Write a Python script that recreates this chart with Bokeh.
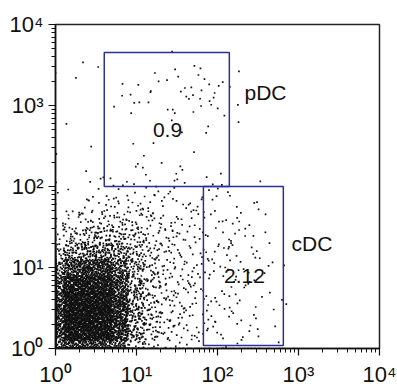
import math
from bokeh.plotting import figure
from bokeh.models import Range1d, Label, LogTicker, ColumnDataSource
from bokeh.embed import file_html
from bokeh.resources import INLINE

# ---------------- data ----------------
tick_values = [1, 10, 100, 1000, 10000]
tick_labels = ["10\u2070", "10\u00b9", "10\u00b2", "10\u00b3", "10\u2074"]
bin_width = 0.2                           # width of a density cell, in decades
# estimated number of events per 0.2 x 0.2 decade cell; rows = y bins (from 10^0 up), cols = x bins
cell_counts = [
    [200, 220, 220, 190, 65, 28, 12, 8, 6, 5, 3, 3, 2, 1, 1],
    [220, 240, 240, 210, 70, 30, 14, 9, 6, 5, 3, 3, 2, 1, 0],
    [220, 240, 240, 210, 65, 30, 14, 9, 7, 5, 4, 3, 2, 1, 0],
    [200, 220, 220, 190, 60, 28, 13, 9, 6, 5, 4, 4, 2, 1, 0],
    [150, 170, 180, 160, 55, 26, 12, 9, 6, 5, 4, 4, 3, 1, 0],
    [60, 80, 90, 80, 45, 22, 12, 8, 6, 5, 5, 4, 3, 1, 0],
    [24, 34, 42, 42, 32, 18, 10, 8, 6, 5, 5, 4, 2, 1, 0],
    [9, 14, 18, 21, 18, 14, 9, 7, 5, 4, 4, 4, 2, 0, 0],
    [3, 5, 7, 9, 9, 8, 6, 5, 5, 4, 3, 3, 1, 0, 0],
    [1, 2, 3, 4, 5, 5, 5, 4, 3, 3, 2, 2, 1, 0, 0],
    [1, 1, 1, 2, 2, 2, 2, 2, 2, 1, 1, 0, 0, 0, 0],
    [0, 1, 0, 1, 1, 1, 1, 1, 1, 0, 0, 0, 0, 0, 0],
    [1, 0, 0, 0, 0, 1, 0, 0, 1, 0, 0, 0, 0, 0, 0],
    [0, 0, 0, 0, 1, 0, 0, 0, 0, 1, 1, 0, 0, 0, 0],
    [0, 1, 0, 0, 1, 1, 1, 1, 1, 2, 1, 0, 0, 0, 0],
    [0, 0, 0, 1, 2, 2, 3, 3, 4, 4, 2, 1, 0, 0, 0],
    [1, 0, 0, 1, 2, 1, 2, 2, 3, 3, 2, 0, 0, 0, 0],
    [1, 1, 0, 0, 0, 0, 0, 1, 1, 1, 0, 0, 0, 0, 0],
]
# events piled on the axes (value at the lower limit, 10^0)
left_edge_counts = [30, 30, 28, 22, 15, 8, 4, 2]                        # per y bin, x = 10^0
bottom_edge_counts = [30, 30, 30, 25, 15, 6, 5, 5, 4, 4, 3, 3, 3, 2, 1]  # per x bin, y = 10^0

gate_names = ["pDC", "cDC"]
gate_left = [4.0, 67.0]
gate_right = [140.0, 650.0]
gate_bottom = [100.0, 1.09]
gate_top = [4500.0, 100.0]
gate_values = ["0.9", "2.12"]

# ---------------- deterministic placement inside cells ----------------
def halton(i, b):
    f, r = 1.0, 0.0
    while i > 0:
        f /= b
        r += f * (i % b)
        i //= b
    return r

xs, ys = [], []
idx = 1
for j, row in enumerate(cell_counts):
    for i, n in enumerate(row):
        for _ in range(n):
            u = halton(idx, 2); v = halton(idx, 3); idx += 1
            lx = (i - 0.5 + 2.0 * u) * bin_width
            ly = (j - 0.5 + 2.0 * v) * bin_width
            lx = min(max(lx, 0.0), 4.0); ly = min(max(ly, 0.0), 4.0)
            xs.append(10 ** lx); ys.append(10 ** ly)
for j, n in enumerate(left_edge_counts):
    for _ in range(n):
        v = halton(idx, 3); idx += 1
        xs.append(1.0); ys.append(10 ** ((j + v) * bin_width))
for i, n in enumerate(bottom_edge_counts):
    for _ in range(n):
        u = halton(idx, 2); idx += 1
        xs.append(10 ** ((i + u) * bin_width)); ys.append(1.0)

# ---------------- figure ----------------
PPD = 81.0  # pixels per decade
FONT = "Liberation Sans"
p = figure(width=397, height=386, x_axis_type="log", y_axis_type="log",
           x_range=Range1d(1, 10000), y_range=Range1d(1, 10000),
           output_backend="svg", toolbar_location=None,
           min_border_left=55, min_border_right=18, min_border_top=24, min_border_bottom=38)
p.frame_width = 324
p.frame_height = 324
p.grid.visible = False
p.outline_line_color = "#222222"
p.outline_line_width = 1.5
p.background_fill_color = "white"
p.border_fill_color = "white"

for ax in (p.xaxis[0], p.yaxis[0]):
    ax.ticker = LogTicker(desired_num_ticks=5, num_minor_ticks=10)
    ax.major_label_overrides = {v: t for v, t in zip(tick_values, tick_labels)}
    ax.major_label_text_font = FONT
    ax.major_label_text_font_size = "22px"
    ax.major_label_text_color = "#111111"
    ax.major_tick_out = 7
    ax.major_tick_in = 0
    ax.minor_tick_out = 4
    ax.minor_tick_in = 0
    ax.axis_line_width = 1.5
    ax.axis_line_color = "#111111"
    ax.major_tick_line_width = 1.2
    ax.minor_tick_line_width = 1
    ax.major_tick_line_color = "#111111"
    ax.minor_tick_line_color = "#111111"
p.xaxis[0].major_label_standoff = 6
p.yaxis[0].major_label_standoff = 5

src = ColumnDataSource(dict(x=xs, y=ys))
p.scatter("x", "y", source=src, marker="square", size=1.7,
          fill_color="#111111", line_color=None)

p.quad(left=gate_left, right=gate_right, bottom=gate_bottom, top=gate_top,
       fill_color=None, line_color="#2b2f9b", line_width=1.5)

def lab(x, y, text, size, align="left"):
    p.add_layout(Label(x=x, y=y, text=text, text_font=FONT, text_font_size=size,
                       text_align=align, text_baseline="alphabetic", text_color="#111111"))

# gate names and percentages (positions in pixels from the frame's lower-left corner)
lab(10 ** ((244 - 55) / PPD), 10 ** ((348 - 92) / PPD), gate_names[0], "21px", "left")
lab(10 ** ((291 - 55) / PPD), 10 ** ((348 - 243) / PPD), gate_names[1], "21px", "left")
lab(10 ** ((167 - 55) / PPD), 10 ** ((348 - 129) / PPD), gate_values[0], "21px", "center")
lab(10 ** ((244 - 55) / PPD), 10 ** ((348 - 275) / PPD), gate_values[1], "21px", "center")

open("out.html", "w").write(file_html(p, INLINE))
